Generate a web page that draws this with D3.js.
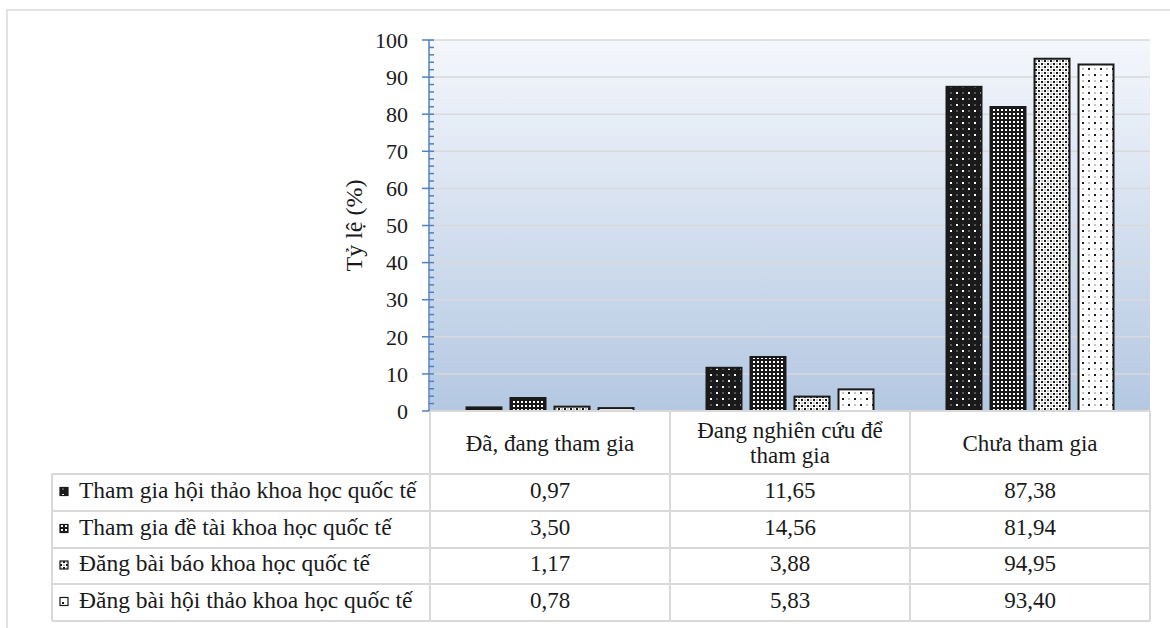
<!DOCTYPE html>
<html><head><meta charset="utf-8">
<script src="https://cdn.jsdelivr.net/npm/d3@7"></script>
<style>
html,body{margin:0;padding:0;background:#fff;}
</style></head>
<body><svg id="c" width="1170" height="628"></svg>
<script>
const categories = ["Đã, đang tham gia", "Đang nghiên cứu để tham gia", "Chưa tham gia"];
const categoryLines = [["Đã, đang tham gia"], ["Đang nghiên cứu để", "tham gia"], ["Chưa tham gia"]];
const seriesNames = ["Tham gia hội thảo khoa học quốc tế", "Tham gia đề tài khoa học quốc tế", "Đăng bài báo khoa học quốc tế", "Đăng bài hội thảo khoa học quốc tế"];
const s1 = [0.97, 11.65, 87.38];
const s2 = [3.50, 14.56, 81.94];
const s3 = [1.17, 3.88, 94.95];
const s4 = [0.78, 5.83, 93.40];
const seriesValues = [s1, s2, s3, s4];
const yTicks = [0, 10, 20, 30, 40, 50, 60, 70, 80, 90, 100];
const yLabel = "Tỷ lệ (%)";

const FONT = "'Liberation Serif', Tinos, 'Times New Roman', Times, 'Noto Serif', 'DejaVu Serif', serif";
const svg = d3.select("#c").attr("font-family", FONT);
const defs = svg.append("defs");

// gradient
const g = defs.append("linearGradient").attr("id", "bg").attr("x1", 0).attr("y1", 0).attr("x2", 0).attr("y2", 1);
g.append("stop").attr("offset", "0%").attr("stop-color", "#f4f7fc");
g.append("stop").attr("offset", "100%").attr("stop-color", "#b4c8e2");

// patterns
function pat(id, size, bg, fg, rects) {
  const p = defs.append("pattern").attr("id", id).attr("patternUnits", "userSpaceOnUse")
    .attr("width", size).attr("height", size);
  p.append("rect").attr("width", size).attr("height", size).attr("fill", bg);
  rects.forEach(r => p.append("rect").attr("x", r[0]).attr("y", r[1]).attr("width", r[2]).attr("height", r[2]).attr("fill", fg));
}
pat("p0", 12, "#1a1a1a", "#fff", [[2, 2, 2], [8, 8, 2], [8.5, 2.5, 1], [2.5, 8.5, 1]]);
pat("p1", 4, "#1a1a1a", "#fff", [[1, 1, 2]]);
pat("p2", 6, "#fff", "#1a1a1a", [[0, 0, 2], [3, 3, 2], [3.5, 0.5, 1], [0.5, 3.5, 1]]);
pat("p3", 12, "#fff", "#1a1a1a", [[2, 2, 2], [8, 8, 2], [8.5, 2.5, 1], [2.5, 8.5, 1]]);

// outer frame
svg.append("rect").attr("x", 7).attr("y", 10).attr("width", 1180).attr("height", 640)
  .attr("fill", "none").attr("stroke", "#d9d9d9").attr("stroke-width", 1.5);

const plotL = 430, plotR = 1150, plotT = 40, plotB = 411;
const y = d3.scaleLinear().domain([0, 100]).range([plotB, plotT]);
const x0 = d3.scaleBand().domain(categories).range([plotL, plotR]);
const x1 = d3.scaleBand().domain(d3.range(4)).range([36.5, 203.5]).paddingInner(0.205);

svg.append("rect").attr("x", plotL).attr("y", plotT).attr("width", plotR - plotL).attr("height", plotB - plotT).attr("fill", "url(#bg)");

// gridlines
svg.append("g").selectAll("line").data(yTicks.filter(d => d > 0)).join("line")
  .attr("x1", plotL).attr("x2", plotR).attr("y1", d => y(d)).attr("y2", d => y(d))
  .attr("stroke", "#d9d9d9").attr("stroke-width", 1.5);

// bars
const gb = svg.append("g");
seriesValues.forEach((vals, si) => {
  gb.append("g").selectAll("rect").data(vals).join("rect")
    .attr("x", (d, i) => x0(categories[i]) + x1(si))
    .attr("y", d => y(d))
    .attr("width", x1.bandwidth())
    .attr("height", d => plotB - y(d))
    .attr("fill", `url(#p${si})`)
    .attr("stroke", "#1a1a1a").attr("stroke-width", 2);
});

// y axis
const minor = d3.range(0, 101, 2).filter(d => d % 10 !== 0);
const ax = svg.append("g");
ax.selectAll("line.mn").data(minor).join("line").attr("class", "mn")
  .attr("x1", 429).attr("x2", 434).attr("y1", d => y(d)).attr("y2", d => y(d))
  .attr("stroke", "#4f81bd").attr("stroke-width", 1.5);
ax.selectAll("line.mj").data(yTicks).join("line").attr("class", "mj")
  .attr("x1", 422).attr("x2", 434).attr("y1", d => y(d)).attr("y2", d => y(d))
  .attr("stroke", "#4f81bd").attr("stroke-width", 1.5);
ax.append("line").attr("x1", 429).attr("x2", 429).attr("y1", plotT).attr("y2", plotB)
  .attr("stroke", "#4f81bd").attr("stroke-width", 1.5);
ax.selectAll("text").data(yTicks).join("text")
  .attr("x", 408).attr("y", d => y(d)).attr("dy", "0.35em").attr("text-anchor", "end")
  .attr("font-size", 22).attr("fill", "#1a1a1a").text(d => d);

svg.append("text").attr("transform", `translate(362,${(plotT + plotB) / 2}) rotate(-90)`)
  .attr("text-anchor", "middle").attr("font-size", 24).attr("fill", "#1a1a1a").text(yLabel);

// table
const tL = 52, rowsY = [474, 511, 548, 584, 621];
const tb = svg.append("g");
function ln(x1_, y1_, x2_, y2_) {
  tb.append("line").attr("x1", x1_).attr("y1", y1_).attr("x2", x2_).attr("y2", y2_)
    .attr("stroke", "#d9d9d9").attr("stroke-width", 2);
}
ln(plotL, plotB, plotR, plotB);
rowsY.forEach(r => ln(tL, r, plotR, r));
ln(tL, rowsY[0], tL, rowsY[4]);
[plotL, plotL + 240, plotL + 480, plotR].forEach(xx => ln(xx, plotB, xx, rowsY[4]));

// header
categoryLines.forEach((lines, i) => {
  const cx = x0(categories[i]) + x0.bandwidth() / 2;
  const cy = (plotB + rowsY[0]) / 2;
  lines.forEach((t, k) => {
    tb.append("text").attr("x", cx).attr("y", cy + (k - (lines.length - 1) / 2) * 25).attr("dy", "0.35em")
      .attr("text-anchor", "middle").attr("font-size", 23).attr("fill", "#1a1a1a").text(t);
  });
});
// rows
seriesNames.forEach((name, si) => {
  const cy = (rowsY[si] + rowsY[si + 1]) / 2;
  tb.append("rect").attr("x", 60).attr("y", cy - 5).attr("width", 8).attr("height", 8)
    .attr("fill", `url(#p${si})`).attr("stroke", "#1a1a1a").attr("stroke-width", 1.2);
  tb.append("text").attr("x", 79).attr("y", cy - 3).attr("dy", "0.35em").attr("font-size", 23.5).attr("fill", "#1a1a1a").text(name);
  seriesValues[si].forEach((v, i) => {
    tb.append("text").attr("x", x0(categories[i]) + x0.bandwidth() / 2).attr("y", cy - 3).attr("dy", "0.35em")
      .attr("text-anchor", "middle").attr("font-size", 23).attr("fill", "#1a1a1a").text(v.toFixed(2).replace(".", ","));
  });
});
</script></body></html>
